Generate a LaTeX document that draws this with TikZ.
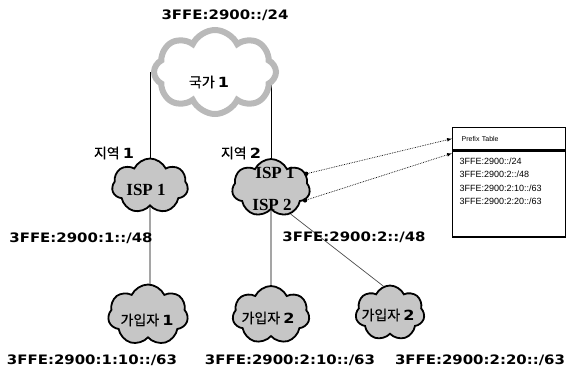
\documentclass[tikz,border=0pt]{standalone}
\usepackage{fontspec}
\setmainfont{Liberation Sans}
\newfontfamily\krfont[FakeBold=0.6]{Noto Sans CJK KR}
\newfontfamily\addrfont[FakeStretch=1.15]{DejaVu Sans Bold}
\newfontfamily\ispfont{Liberation Serif Bold}
\usepackage{tikz}
\usetikzlibrary{shapes.symbols}
\usetikzlibrary{arrows}
\usetikzlibrary{positioning}
\usetikzlibrary{backgrounds}

\begin{document}
\begin{tikzpicture}[x=1pt,y=-1pt]
\tikzstyle{net} = [cloud, cloud puffs=7, cloud puff arc=130, draw, line width=1.8pt, fill=gray!45, inner sep=0pt]
\tikzstyle{bignet} = [net, cloud puffs=8, draw=gray!55, line width=6pt, fill=white]
\tikzstyle{addr} = [font=\addrfont\fontsize{13}{15}\selectfont, inner sep=0pt]
\tikzstyle{kr} = [font=\krfont\fontsize{14}{16}\selectfont, inner sep=0pt]
\tikzstyle{isp} = [font=\ispfont\fontsize{17}{19}\selectfont, inner sep=0pt]
\tikzstyle{link} = [line width=0.7pt]
\tikzstyle{ptr} = [densely dotted, -latex, line width=0.7pt]
\tikzstyle{tab} = [draw, line width=1.3pt, anchor=north west, minimum width=113pt]

\useasboundingbox (0,0) rectangle (572,370);

% clouds
\node[bignet, minimum width=122pt, minimum height=84pt] (country) at (215,72) {};
\node[net, minimum width=76pt, minimum height=55pt] (isp1) at (150,186) {};
\node[net, minimum width=78pt, minimum height=58pt] (isp2) at (271,188) {};
\node[net, minimum width=80pt, minimum height=61pt] (home1) at (148,315) {};
\node[net, minimum width=77pt, minimum height=58pt] (home2) at (271,315) {};
\node[net, minimum width=69pt, minimum height=55pt] (home3) at (390,313) {};

% links
\begin{scope}[on background layer]
\draw[link] (isp1) -- (isp1 |- country);
\draw[link] (isp2) -- (isp2 |- country);
\draw[link] (isp1) -- (home1.center -| isp1);
\draw[link] (isp2) -- (home2);
\end{scope}
\draw[link, gray!60!black] (isp2.-53) -- (home3.104);

% names
\node[kr] (cname) at (209,82) {국가 {\addrfont 1}};
\node[kr] (reg1) at (114,153) {지역 {\addrfont 1}};
\node[kr] (reg2) at (241,153) {지역 {\addrfont 2}};
\node[isp] (isp1a) at (146,190) {ISP 1};
\node[isp] (isp2a) at (275,173) {ISP 1};
\node[isp] (isp2b) at (272,205) {ISP 2};
\node[kr] (h1name) at (147,320) {가입자 {\addrfont 1}};
\node[kr] (h2name) at (268,318) {가입자 {\addrfont 2}};
\node[kr] (h3name) at (388,315) {가입자 {\addrfont 2}};

% prefixes
\node[addr] (pre0) at (225,15) {3FFE:2900::/24};
\node[addr] (pre1) at (81,238) {3FFE:2900:1::/48};
\node[addr] (pre2) at (354,237) {3FFE:2900:2::/48};
\node[addr] (pre11) at (92,360) {3FFE:2900:1:10::/63};
\node[addr] (pre21) at (290,360) {3FFE:2900:2:10::/63};
\node[addr] (pre22) at (480,360) {3FFE:2900:2:20::/63};

% prefix table
\node[tab, minimum height=22pt, inner xsep=9pt, text width=95pt, align=left,
  font=\fontsize{7}{8}\selectfont] (tabhead) at (452,127) {Prefix Table};
\node[tab, inner xsep=7pt, inner ysep=0pt] (tabbody) at (tabhead.south west)
  {\parbox[t][86pt][t]{99pt}{\fontsize{9}{13.3}\selectfont\vspace*{7pt}%
   3FFE:2900::/24\\3FFE:2900:2::/48\\3FFE:2900:2:10::/63\\3FFE:2900:2:20::/63}};

\fill (isp2.22) circle (2.2pt);
\fill (isp2.-20) circle (2.2pt);
\draw[ptr] (isp2.22) -- (tabhead.west);
\draw[ptr] (isp2.-20) -- ([yshift=-3pt]tabbody.north west);

\end{tikzpicture}
\end{document}
